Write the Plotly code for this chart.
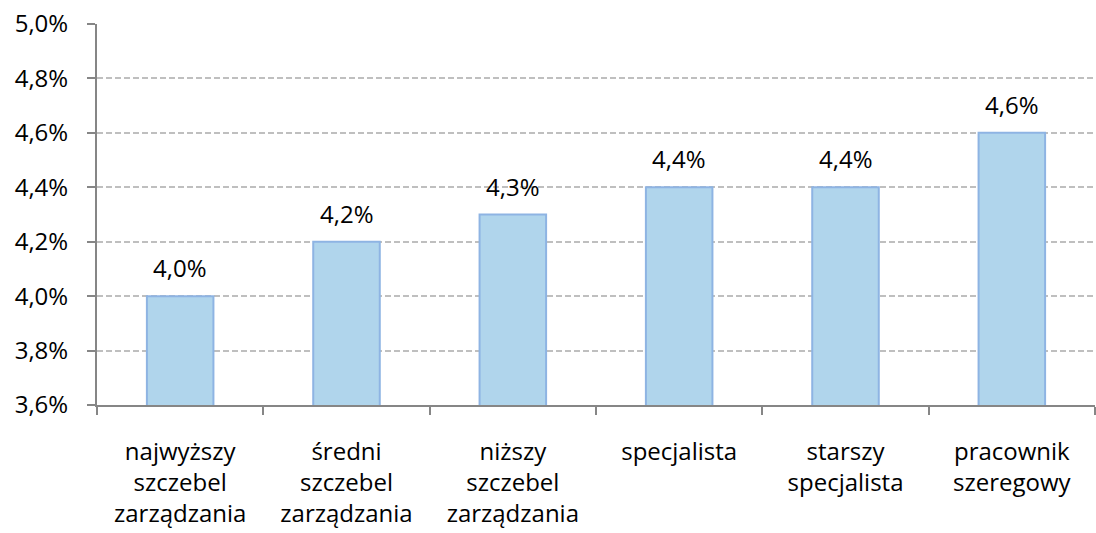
import plotly.graph_objects as go

categories = ["najwyższy<br>szczebel<br>zarządzania", "średni<br>szczebel<br>zarządzania",
              "niższy<br>szczebel<br>zarządzania", "specjalista", "starszy<br>specjalista",
              "pracownik<br>szeregowy"]
values = [0.040, 0.042, 0.043, 0.044, 0.044, 0.046]
y_ticks = [0.036, 0.038, 0.040, 0.042, 0.044, 0.046, 0.048, 0.050]

FONT = "Open Sans"
FS = 24

fig = go.Figure(go.Bar(
    x=categories, y=values,
    width=0.4,
    marker=dict(color="#B0D5EC", line=dict(color="#8EB4E3", width=2)),
    hoverinfo="x+y",
))

for c, v in zip(categories, values):
    fig.add_annotation(
        x=c, y=v, text=f"{v*100:.1f}%".replace(".", ","),
        showarrow=False, yanchor="bottom", yshift=10,
        font=dict(family=FONT, size=FS, color="#000000"),
    )

fig.update_layout(
    width=1096, height=533,
    margin=dict(l=97, r=1, t=24, b=128),
    paper_bgcolor="white", plot_bgcolor="white",
    separators=",.",
    showlegend=False,
    font=dict(family=FONT, size=FS, color="#000000"),
)
fig.update_yaxes(
    range=[0.036, 0.050], tickvals=y_ticks, tickformat=".1%",
    showgrid=True, gridcolor="#BFBFBF", griddash="6px,3px", gridwidth=1.5,
    showline=True, linecolor="#868686", linewidth=2,
    ticks="outside", ticklen=8, tickcolor="#868686", tickwidth=2,
    ticklabelstandoff=14, zeroline=False, automargin=False,
    tickfont=dict(family=FONT, size=FS, color="#000000"),
)
fig.update_xaxes(
    showline=True, linecolor="#868686", linewidth=2,
    ticks="outside", ticklen=8, tickcolor="#868686", tickwidth=2,
    tickson="boundaries", ticklabelstandoff=24, automargin=False,
    tickfont=dict(family=FONT, size=FS, color="#000000"),
)

fig.write_html("out.html", config={"displayModeBar": False},
               post_script="document.body.style.margin='0';")
